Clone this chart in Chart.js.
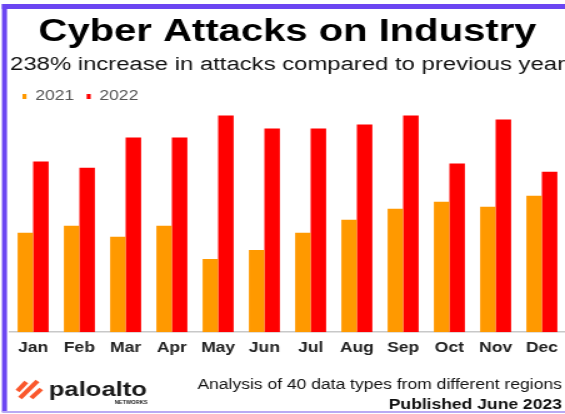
<!DOCTYPE html>
<html>
<head>
<meta charset="utf-8">
<script src="https://cdn.jsdelivr.net/npm/chart.js@4/dist/chart.umd.min.js"></script>
<style>
  html, body { margin: 0; padding: 0; background: #fff; overflow: hidden; }
  /* the reference is stretched sideways, so draw narrow and scale up */
  #wrap { width: 452px; height: 414px; transform: scaleX(1.25); transform-origin: 0 0; }
</style>
</head>
<body>
<div id="wrap"><canvas id="attackChart"></canvas></div>
<script>
// DATA

const months = ["Jan", "Feb", "Mar", "Apr", "May", "Jun", "Jul", "Aug", "Sep", "Oct", "Nov", "Dec"];
const attacks2021 = [99, 106, 95, 106, 73, 82, 99, 112, 123, 130, 125, 136];
const attacks2022 = [170, 164, 194, 194, 216, 203, 203, 207, 216, 168, 212, 160];

const FONT = "Arial, 'Liberation Sans', sans-serif";

// FRAME + FOOTER

const framePlugin = {
  id: "frame",
  beforeDraw(chart) {
    const ctx = chart.ctx;
    const w = chart.width;
    ctx.save();
    ctx.fillStyle = "#ffffff";
    ctx.fillRect(0, 0, w, chart.height);
    ctx.fillStyle = "#6b46f2";
    ctx.fillRect(1.6, 4, w, 5);
    ctx.fillRect(1.6, 4, 4, 408);
    ctx.fillStyle = "#b9aaf3";
    ctx.fillRect(1.6, 411, w, 2);
    ctx.restore();
  },
  afterDraw(chart) {
    const ctx = chart.ctx;
    ctx.save();

    // logo mark
    ctx.strokeStyle = "#fa582d";
    ctx.lineWidth = 4;
    ctx.lineCap = "butt";
    const strokes = [[14, 391, 21, 382], [16, 398, 30, 381], [25, 398, 33, 389]];
    strokes.forEach(([x1, y1, x2, y2]) => {
      ctx.beginPath();
      ctx.moveTo(x1, y1);
      ctx.lineTo(x2, y2);
      ctx.stroke();
    });

    ctx.fillStyle = "#1a1a1a";
    ctx.font = "bold 20.5px " + FONT;
    ctx.textAlign = "left";
    ctx.textBaseline = "alphabetic";
    ctx.fillText("paloalto", 39, 396);
    ctx.font = "bold 4.5px " + FONT;
    ctx.textAlign = "right";
    ctx.fillText("NETWORKS", 118, 404);

    // notes
    ctx.fillStyle = "#111";
    ctx.font = "14px " + FONT;
    ctx.fillText("Analysis of 40 data types from different regions", 449.5, 389);
    ctx.font = "bold 14px " + FONT;
    ctx.fillText("Published June 2023", 449.5, 409);
    ctx.restore();
  }
};

// CHART

new Chart(document.getElementById("attackChart"), {
  type: "bar",
  data: {
    labels: months,
    datasets: [
      { label: "2021", data: attacks2021, backgroundColor: "#ff9900", borderWidth: 0 },
      { label: "2022", data: attacks2022, backgroundColor: "#ff0000", borderWidth: 0 }
    ]
  },
  options: {
    responsive: true,
    maintainAspectRatio: false,
    animation: false,
    events: [],
    categoryPercentage: 0.67,
    barPercentage: 1,
    layout: { padding: { left: 8, right: 0, top: 0, bottom: 57 } },
    plugins: {
      title: {
        display: true,
        text: "Cyber Attacks on Industry",
        color: "#000",
        font: { family: FONT, size: 32, weight: "bold" },
        padding: { top: 13, bottom: 0 }
      },
      subtitle: {
        display: true,
        text: "238% increase in attacks compared to previous year",
        align: "start",
        color: "#111",
        font: { family: FONT, size: 19.2, weight: "normal" },
        padding: { top: 2, bottom: 3 }
      },
      legend: {
        position: "top",
        align: "start",
        labels: {
          boxWidth: 3.2,
          boxHeight: 5,
          padding: 10,
          color: "#555",
          font: { family: FONT, size: 14 }
        }
      },
      tooltip: { enabled: false }
    },
    scales: {
      x: {
        grid: { display: false },
        border: { color: "#c8c8c8", width: 1.5 },
        ticks: { color: "#222", padding: 0, font: { family: FONT, size: 14, weight: "bold" } }
      },
      y: { display: false, min: 0, max: 218 }
    }
  },
  plugins: [framePlugin]
});
</script>
</body>
</html>
